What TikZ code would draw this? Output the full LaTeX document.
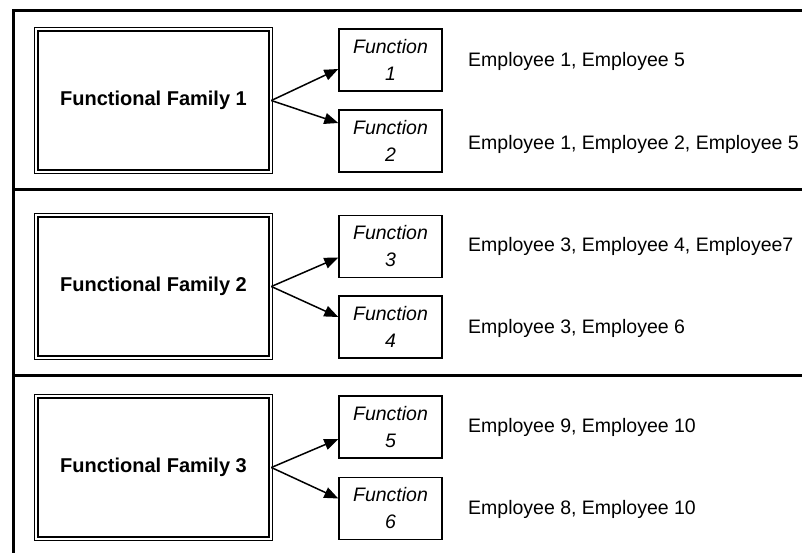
\documentclass[tikz,border=0pt]{standalone}
\usepackage{fontspec}
\setmainfont{Liberation Sans}
\usetikzlibrary{arrows.meta}
\tikzset{
  frameline/.style={line width=3pt, line cap=rect},
  fambox/.style={draw, double, line width=1.3pt, double distance=2pt, minimum width=234.4pt, minimum height=142.4pt, inner sep=0pt, font=\fontsize{20}{24}\selectfont\bfseries},
  funbox/.style={draw, line width=1.4pt, minimum width=103pt, minimum height=62pt, inner sep=0pt, align=center, font=\fontsize{19.5}{27}\selectfont\itshape},
  emptext/.style={anchor=west, inner sep=0pt, font=\fontsize{19.5}{24}\selectfont},
  link/.style={line width=1.5pt, -{Triangle[length=14pt,width=11pt]}}
}
\begin{document}
\begin{tikzpicture}[x=1pt,y=-1pt]
\useasboundingbox (0,0) rectangle (802,552);
% frame
\coordinate (fbl) at (13,560);
\coordinate (ftl) at (13,10);
\coordinate (ftr) at (810,10);
\coordinate (s1l) at (13,189);
\coordinate (s1r) at (810,189);
\coordinate (s2l) at (13,375);
\coordinate (s2r) at (810,375);
\draw[frameline] (fbl) -- (ftl) -- (ftr);
\draw[frameline] (s1l) -- (s1r);
\draw[frameline] (s2l) -- (s2r);
% section 1
\node[fambox] (fam1) at (153.5,100.5) {Functional Family 1};
\node[funbox] (fn1) at (390.5,60) {Function\\1};
\node[funbox] (fn2) at (390.5,141) {Function\\2};
\draw[link] (fam1.east) -- ([yshift=-9pt]fn1.west);
\draw[link] (fam1.east) -- ([yshift=18pt]fn2.west);
\node[emptext] (e1) at (468,61) {Employee 1, Employee 5};
\node[emptext] (e2) at (468,144) {Employee 1, Employee 2, Employee 5};
% section 2
\node[fambox] (fam2) at (153.5,286.5) {Functional Family 2};
\node[funbox] (fn3) at (390.5,246.5) {Function\\3};
\node[funbox] (fn4) at (390.5,327) {Function\\4};
\draw[link] (fam2.east) -- ([yshift=-11pt]fn3.west);
\draw[link] (fam2.east) -- ([yshift=10pt]fn4.west);
\node[emptext] (e3) at (468,246) {Employee 3, Employee 4, Employee7};
\node[emptext] (e4) at (468,328) {Employee 3, Employee 6};
% section 3
\node[fambox] (fam3) at (153.5,467.5) {Functional Family 3};
\node[funbox] (fn5) at (390.5,427) {Function\\5};
\node[funbox] (fn6) at (390.5,508.5) {Function\\6};
\draw[link] (fam3.east) -- ([yshift=-12pt]fn5.west);
\draw[link] (fam3.east) -- ([yshift=10pt]fn6.west);
\node[emptext] (e5) at (468,427) {Employee 9, Employee 10};
\node[emptext] (e6) at (468,509) {Employee 8, Employee 10};
\end{tikzpicture}
\end{document}
